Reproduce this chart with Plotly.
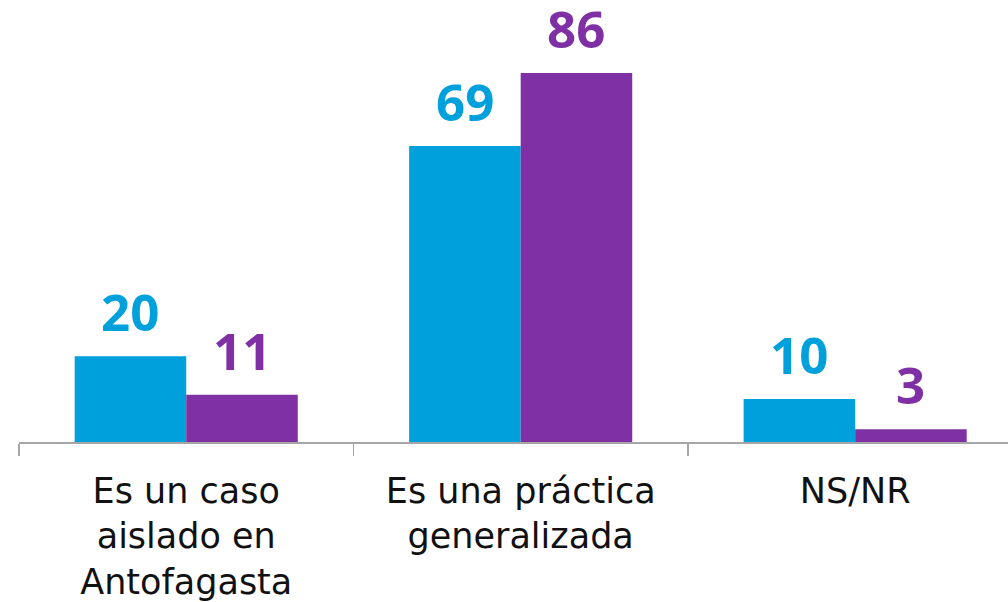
import plotly.graph_objects as go

categories = ["Es un caso<br>aislado en<br>Antofagasta", "Es una práctica<br>generalizada", "NS/NR"]
series_a = [20, 69, 10]
series_b = [11, 86, 3]
series_names = ["Serie 1", "Serie 2"]
colors = ["#00A0DC", "#7E30A4"]

fig = go.Figure()
for name, vals, col in zip(series_names, [series_a, series_b], colors):
    fig.add_trace(go.Bar(
        x=categories, y=vals, name=name,
        marker=dict(color=col, line=dict(width=0)),
        cliponaxis=False,
    ))

# value labels above bars
bar_px = 111.5
for i, (vals, col) in enumerate(zip([series_a, series_b], colors)):
    for cat, v in zip(categories, vals):
        fig.add_annotation(
            x=cat, y=v, xref="x", yref="y",
            text=str(v), showarrow=False,
            xanchor="center", yanchor="bottom",
            xshift=(i - 0.5) * bar_px, yshift=8,
            font=dict(family="Open Sans", size=51, color=col, weight=700),
        )

fig.update_layout(
    width=1008, height=602,
    margin=dict(l=19, r=0, t=0, b=158),
    barmode="group", bargap=0.333, bargroupgap=0,
    showlegend=False,
    plot_bgcolor="white", paper_bgcolor="white",
)
fig.update_xaxes(
    type="category", range=[-0.5, 2.457],
    tickson="boundaries", ticks="outside", ticklen=12, tickwidth=1.5,
    tickcolor="#A6A6A6", showline=True, linecolor="#A6A6A6", linewidth=1.5,
    tickfont=dict(family="DejaVu Sans", size=35, color="#111111"),
    ticklabelstandoff=17,
    showgrid=False, fixedrange=True,
)
fig.update_yaxes(range=[0, 103], visible=False, showgrid=False, fixedrange=True)

fig.write_html(
    "out.html",
    config={"displayModeBar": False, "staticPlot": True},
    post_script="document.body.style.margin='0';document.body.style.overflow='hidden';",
)
